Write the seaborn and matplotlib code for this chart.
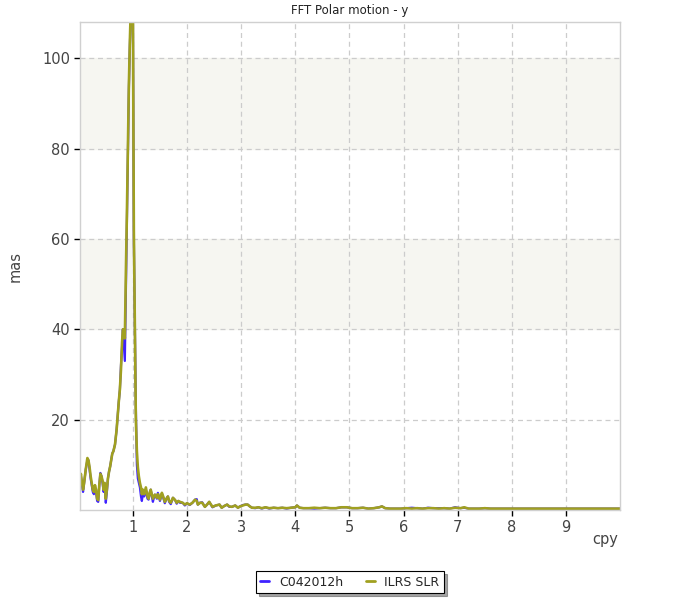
import numpy as np
import pandas as pd
import seaborn as sns
import matplotlib
matplotlib.use("Agg")
import matplotlib.pyplot as plt
from matplotlib.ticker import MultipleLocator
from matplotlib.lines import Line2D

# frequency (cpy) and FFT amplitude (mas)
freq = [0.02, 0.04, 0.06, 0.08, 0.10, 0.13, 0.16, 0.18, 0.20, 0.22,
        0.24, 0.26, 0.28, 0.30, 0.32, 0.34, 0.36, 0.38, 0.40, 0.42,
        0.44, 0.46, 0.48, 0.50, 0.52, 0.54, 0.56, 0.58, 0.60, 0.62,
        0.64, 0.67, 0.70, 0.72, 0.74, 0.76, 0.78, 0.80, 0.815, 0.835,
        0.852, 0.87, 0.889, 0.908, 0.926, 0.945, 0.963, 0.981, 1.0, 1.018,
        1.036, 1.055, 1.074, 1.092, 1.11, 1.13, 1.15, 1.166, 1.185, 1.21,
        1.24, 1.27, 1.29, 1.314, 1.33, 1.351, 1.37, 1.39, 1.407, 1.444,
        1.462, 1.48, 1.50, 1.536, 1.56, 1.59, 1.62, 1.647, 1.67, 1.70,
        1.74, 1.78, 1.81, 1.84, 1.87, 1.92, 1.96, 2.00, 2.05, 2.10,
        2.15, 2.18, 2.20, 2.24, 2.28, 2.33, 2.37, 2.41, 2.47, 2.53,
        2.60, 2.64, 2.69, 2.74, 2.78, 2.83, 2.89, 2.94, 2.98, 3.03,
        3.08, 3.12, 3.16, 3.20, 3.26, 3.32, 3.38, 3.45, 3.52, 3.60,
        3.68, 3.76, 3.84, 3.92, 4.00, 4.03, 4.08, 4.15, 4.25, 4.35,
        4.45, 4.55, 4.65, 4.75, 4.85, 4.95, 5.05, 5.15, 5.25, 5.35,
        5.45, 5.55, 5.60, 5.66, 5.75, 5.85, 5.95, 6.05, 6.15, 6.25,
        6.35, 6.45, 6.55, 6.65, 6.75, 6.85, 6.95, 7.05, 7.12, 7.20,
        7.30, 7.40, 7.50, 7.60, 7.70, 7.80, 7.90, 8.00, 8.20, 8.40,
        8.60, 8.80, 9.00, 9.20, 9.40, 9.60, 9.80, 10.0]

ilrs = [6.5, 8.0, 6.0, 4.5, 6.0, 9.0, 11.5, 11.0, 9.5, 7.5,
        6.0, 4.5, 4.0, 5.5, 4.5, 2.5, 2.2, 5.5, 8.0, 7.5,
        6.5, 4.5, 6.0, 2.5, 4.5, 7.0, 8.5, 9.6, 11.0, 12.5,
        13.0, 14.5, 17.8, 21.0, 24.0, 26.7, 31.0, 37.0, 40.0, 40.0,
        38.0, 52.0, 65.0, 80.0, 94.0, 104.0, 112.0, 118.0, 114.0, 62.0,
        42.0, 20.0, 13.0, 9.5, 7.5, 6.0, 5.0, 3.5, 4.5, 3.5,
        5.0, 3.0, 2.5, 4.0, 4.5, 3.5, 2.5, 3.0, 3.4, 2.7,
        3.5, 3.0, 2.3, 3.8, 3.0, 1.8, 2.5, 3.0, 2.0, 1.6,
        2.7, 2.2, 1.6, 2.0, 1.8, 1.6, 1.2, 1.5, 1.2, 1.6,
        2.3, 2.0, 1.2, 1.6, 1.6, 0.7, 1.2, 1.8, 0.7, 1.0,
        1.2, 0.5, 0.9, 1.2, 0.8, 0.7, 1.0, 0.5, 0.8, 1.0,
        1.2, 1.2, 0.8, 0.5, 0.5, 0.6, 0.4, 0.6, 0.4, 0.5,
        0.4, 0.5, 0.4, 0.5, 0.6, 1.0, 0.5, 0.4, 0.4, 0.5,
        0.4, 0.5, 0.4, 0.4, 0.6, 0.6, 0.4, 0.4, 0.5, 0.3,
        0.4, 0.6, 0.8, 0.4, 0.3, 0.3, 0.3, 0.4, 0.3, 0.4,
        0.3, 0.4, 0.4, 0.3, 0.4, 0.3, 0.5, 0.4, 0.6, 0.3,
        0.3, 0.3, 0.4, 0.3, 0.3, 0.3, 0.3, 0.3, 0.3, 0.3,
        0.3, 0.3, 0.3, 0.3, 0.3, 0.3, 0.3, 0.3]

c042012h = [6.0, 7.5, 5.5, 4.0, 6.0, 9.0, 11.0, 11.0, 9.0, 7.0,
            5.5, 4.0, 3.5, 5.0, 4.0, 2.0, 1.8, 5.5, 8.2, 7.5,
            6.0, 4.0, 5.5, 1.6, 4.0, 7.0, 8.5, 9.6, 11.0, 12.5,
            13.0, 14.5, 17.8, 21.0, 24.0, 26.5, 32.0, 36.0, 40.0, 36.0,
            33.0, 48.0, 64.0, 79.0, 93.0, 103.0, 110.0, 116.0, 112.0, 60.0,
            41.0, 23.0, 10.0, 7.0, 6.0, 5.0, 3.0, 2.0, 3.5, 3.0,
            4.5, 2.5, 2.3, 3.8, 4.5, 3.0, 1.8, 2.8, 3.4, 2.5,
            3.8, 3.0, 2.0, 3.6, 2.8, 1.5, 2.5, 3.0, 1.8, 1.3,
            2.7, 2.2, 1.4, 2.0, 1.6, 1.6, 1.0, 1.5, 1.1, 1.6,
            2.3, 2.4, 1.2, 1.6, 1.7, 0.7, 1.2, 1.8, 0.6, 1.0,
            1.2, 0.5, 0.9, 1.2, 0.7, 0.7, 1.0, 0.5, 0.8, 1.1,
            1.2, 1.2, 0.8, 0.5, 0.4, 0.6, 0.3, 0.6, 0.3, 0.5,
            0.4, 0.5, 0.3, 0.5, 0.6, 1.0, 0.5, 0.4, 0.4, 0.3,
            0.4, 0.5, 0.4, 0.4, 0.6, 0.6, 0.4, 0.4, 0.5, 0.3,
            0.4, 0.6, 0.8, 0.4, 0.3, 0.3, 0.3, 0.4, 0.5, 0.4,
            0.3, 0.5, 0.4, 0.4, 0.4, 0.3, 0.6, 0.4, 0.5, 0.3,
            0.3, 0.3, 0.4, 0.3, 0.3, 0.3, 0.3, 0.3, 0.3, 0.3,
            0.3, 0.3, 0.3, 0.3, 0.3, 0.3, 0.3, 0.3]

series_names = ["C042012h", "ILRS SLR"]
colors = ["#3F22FF", "#A0A020"]

df = pd.DataFrame({"cpy": freq, "C042012h": c042012h, "ILRS SLR": ilrs})
long = df.melt(id_vars="cpy", var_name="series", value_name="mas")

sns.set_style("white")
plt.rcParams['font.family'] = ['DejaVu Sans']

fig = plt.figure(figsize=(7, 6), dpi=100)
ax = fig.add_axes([0.114, 0.15, 0.772, 0.813])

# alternating bands
for lo, hi in [(40, 60), (80, 100)]:
    ax.axhspan(lo, hi, color="#F6F6F1", zorder=0)

sns.lineplot(data=long, x="cpy", y="mas", hue="series", hue_order=series_names,
             palette=colors, legend=False, ax=ax, estimator=None, sort=False)
for line, lw in zip(ax.lines, [1.6, 1.9]):
    line.set_linewidth(lw)

ax.set_xlim(0.02, 10.0)
ax.set_ylim(0, 108)
ax.set_xticks(range(1, 10))
ax.set_yticks([20, 40, 60, 80, 100])
ax.yaxis.set_minor_locator(MultipleLocator(10))
ax.grid(True, which="major", color="#CCCCCC", linestyle=(0, (4, 3)), linewidth=0.9)
ax.set_axisbelow(True)
ax.tick_params(axis="both", which="major", direction="out", length=4, width=1,
               color="black", labelsize=10.5, labelcolor="#444444", pad=3)
ax.tick_params(axis="y", which="minor", direction="out", length=4, width=1, color="black")
ax.tick_params(left=True, bottom=True)
for s in ax.spines.values():
    s.set_color("#D0D0D0")
    s.set_linewidth(1)

ax.set_title("FFT Polar motion - y", fontsize=8.5, color="#222222", pad=6)
ax.set_xlabel("")
ax.set_ylabel("mas", fontsize=10.5, color="#444444")
ax.yaxis.set_label_coords(-0.105, 0.5)
fig.text(0.865, 0.093, "cpy", fontsize=10.5, color="#444444", ha="center")

handles = [Line2D([0], [0], color=c, lw=2) for c in colors]
leg = fig.legend(handles, series_names, loc="center", bbox_to_anchor=(0.5, 0.03),
                 ncol=2, fontsize=9, frameon=True, fancybox=False, shadow=True,
                 handlelength=0.7, handletextpad=0.8, columnspacing=1.8,
                 borderpad=0.35)
leg.get_frame().set_edgecolor("black")
leg.get_frame().set_linewidth(0.8)

fig.savefig("out.png", dpi=100)
